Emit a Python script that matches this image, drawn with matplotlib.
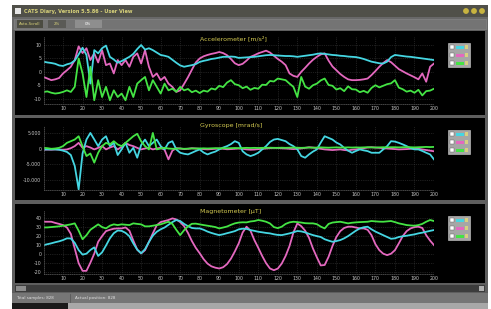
import numpy as np
import matplotlib
matplotlib.use("Agg")
import matplotlib.pyplot as plt
from matplotlib.patches import Rectangle, Circle

# sample positions (x axis of all three panels)
x = np.arange(0, 201, 2)

# accelerometer [m/s^2]
acc_cyan = [
    3.8, 3.5, 3.3, 3.0, 2.4, 2.2, 2.8, 3.2, 4.2, 6.5,
    9.0, 6.3, -4.4, 8.1, 6.9, 8.8, 9.8, 5.6, 4.6, 3.4,
    4.0, 4.8, 5.6, 6.7, 8.5, 10.0, 8.3, 8.8, 8.1, 7.2,
    6.3, 6.0, 5.6, 4.5, 3.4, 2.4, 1.9, 2.2, 2.5, 2.9,
    3.7, 4.1, 4.4, 4.8, 5.0, 5.3, 5.6, 5.6, 5.7, 5.6,
    5.2, 5.3, 5.4, 5.5, 5.6, 5.8, 6.0, 6.2, 6.3, 6.2,
    6.1, 6.0, 5.9, 5.9, 5.8, 5.6, 5.8, 6.0, 6.2, 6.4,
    6.7, 6.9, 6.7, 6.5, 6.3, 6.2, 6.0, 5.9, 5.7, 5.6,
    5.5, 5.2, 4.8, 4.3, 3.8, 3.5, 3.2, 3.1, 3.8, 5.5,
    6.3, 6.1, 5.9, 5.7, 5.6, 5.4, 5.2, 5.0, 4.8, 4.6,
    4.4]
acc_pink = [
    -1.9, -2.5, -3.1, -2.8, -2.3, -0.6, 0.6, 1.9, 4.4, 9.5,
    7.0, 8.8, 4.4, 6.9, 3.5, 8.1, 2.5, 3.1, -0.6, 4.4,
    2.5, 4.4, 1.9, 5.6, 6.9, 3.1, 8.1, 1.9, -1.9, -0.6,
    -3.1, -1.9, -4.4, -5.6, -7.5, -6.9, -4.5, -2.0, 0.8, 3.5,
    5.0, 5.8, 6.3, 6.7, 7.0, 7.4, 7.0, 6.2, 4.8, 3.2,
    2.5, 3.0, 4.2, 5.6, 6.2, 6.9, 7.4, 7.9, 7.2, 6.0,
    4.8, 3.8, 2.5, -0.6, -1.5, -1.9, 0.0, 1.5, 3.1, 4.5,
    5.6, 6.5, 6.9, 4.2, 2.0, 0.6, -0.8, -1.9, -2.8, -3.1,
    -3.1, -3.0, -2.8, -2.5, -1.2, 0.3, 1.9, 3.3, 4.4, 3.6,
    2.3, 1.0, 0.2, -0.6, -1.3, -2.0, -2.8, -0.6, -3.7, 1.9,
    3.1]
acc_green = [
    -7.5, -7.3, -7.8, -8.1, -7.9, -7.5, -6.9, -7.5, -5.6, 5.0,
    -0.6, -9.4, 1.9, -10.6, -3.1, -9.4, -5.6, -10.6, -6.9, -9.4,
    -8.1, -10.6, -5.6, -9.4, -4.4, -3.1, -1.9, -6.9, -3.1, -5.6,
    -8.1, -4.4, -6.9, -6.3, -7.4, -5.6, -6.9, -6.4, -7.6, -7.0,
    -7.9, -7.0, -7.4, -6.2, -6.6, -5.2, -5.7, -4.0, -3.1, -4.6,
    -5.0, -6.1, -5.5, -6.7, -6.0, -6.3, -4.8, -4.9, -3.4, -3.6,
    -2.5, -2.8, -3.1, -4.4, -5.6, -9.4, -1.9, -5.5, -6.3, -5.0,
    -4.4, -3.2, -2.5, -4.9, -5.2, -6.6, -6.1, -7.2, -5.4, -6.5,
    -6.6, -7.6, -7.1, -7.8, -6.0, -5.0, -5.8, -5.2, -4.6, -4.3,
    -3.1, -5.9, -6.5, -7.4, -7.0, -7.8, -6.7, -8.8, -7.2, -7.0,
    -6.3]

# gyroscope [mrad/s]
gyro_cyan = [
    -200, -200, -200, -200, -300, -600, -1000, -2000, -5500, -13000,
    -1500, 2960, 5080, 3000, 850, 2960, 4020, 850, 1900, -2000,
    -200, 1900, -1270, 320, -2860, 1200, 2960, 850, 1900, 2960,
    850, -200, 1900, 2430, -200, -1270, -1600, -1800, -1270, -700,
    -200, -1200, -1800, -1300, -900, -200, 400, 850, 1500, 2430,
    1900, -800, -1800, -2330, -1900, -1270, -200, 850, 2200, 2960,
    3170, 2800, 2430, 1500, 850, -200, -2330, -2860, -1800, -900,
    -200, 2000, 4020, 3500, 2960, 2000, 1380, 300, -600, -1270,
    -700, -200, -500, -740, -1270, -1270, -1270, -200, 850, 2430,
    2300, 1900, 1400, 850, 200, -200, -200, -700, -1270, -1800,
    -3390]
gyro_pink = [
    -300, -250, -300, -200, -250, -300, -200, 200, 850, 1900,
    320, 850, 400, -200, 300, 850, -200, 400, 850, -200,
    600, 1900, 1200, 850, 300, -200, 100, 320, -200, 100,
    320, -300, -3390, -600, 200, 100, -100, 0, 200, 100,
    0, -100, -200, -100, 0, 100, 0, -150, -100, 0,
    100, 0, -200, -300, -250, -100, 0, 100, 200, 300,
    250, 150, 100, 0, -100, 0, 100, 300, 500, 400,
    200, 0, -200, -300, -400, -300, -200, -400, -500, -300,
    -200, 0, 200, 400, 500, 400, 300, 200, 100, 0,
    -100, -200, -150, -100, 0, 100, 0, -200, -400, -600,
    -800]
gyro_green = [
    320, 200, 0, 100, 300, 850, 1900, 2430, 2960, 4020,
    800, -2330, -1500, -4440, -1270, 850, 1900, 1400, 2430, 1380,
    850, 1900, 2960, 4020, 4800, 2400, 850, -200, 5080, -200,
    100, 320, 100, 0, 50, 100, 0, 50, 100, 100,
    100, 150, 100, 150, 200, 150, 200, 150, 200, 250,
    200, 250, 300, 250, 300, 250, 300, 300, 350, 300,
    300, 350, 300, 350, 400, 350, 300, 350, 400, 350,
    400, 450, 400, 350, 400, 450, 400, 400, 450, 400,
    450, 400, 450, 500, 450, 400, 450, 500, 450, 500,
    500, 450, 500, 550, 500, 450, 500, 550, 600, 550,
    600]

# magnetometer [uT]
mag_cyan = [
    10.0, 11.0, 12.0, 13.2, 14.2, 15.6, 17.5, 17.4, 12.5, 4.5,
    -0.5, 0.5, 4.6, 7.5, -2.0, 2.0, 9.5, 17.5, 23.2, 26.2,
    25.8, 23.6, 19.8, 11.9, 5.0, 1.0, 5.5, 13.5, 20.5, 24.8,
    27.5, 29.5, 32.5, 35.5, 37.8, 36.7, 33.5, 31.0, 29.0, 28.5,
    28.5, 27.0, 25.0, 23.5, 22.2, 21.1, 22.0, 23.2, 24.3, 25.5,
    27.5, 28.2, 28.0, 26.7, 25.8, 24.8, 24.2, 23.5, 23.0, 22.0,
    21.3, 21.1, 22.0, 23.0, 24.2, 25.6, 25.2, 24.1, 22.5, 21.1,
    20.0, 19.0, 16.5, 15.0, 13.7, 14.5, 15.6, 17.5, 20.0, 23.0,
    26.0, 28.5, 29.8, 30.4, 27.5, 25.0, 23.0, 21.0, 19.0, 17.0,
    17.5, 19.0, 19.8, 20.4, 21.2, 21.9, 23.0, 23.8, 24.8, 25.8,
    26.7]
mag_pink = [
    35.9, 35.9, 35.9, 34.6, 33.5, 32.2, 29.5, 22.5, 6.3, -10.0,
    -18.5, -18.5, -9.5, 0.5, 13.7, 20.0, 25.5, 27.0, 28.2, 28.5,
    28.5, 29.6, 26.0, 15.0, 5.0, 0.8, 4.4, 13.5, 23.0, 32.0,
    35.5, 36.7, 37.8, 39.6, 38.5, 35.5, 31.0, 23.5, 14.5, 7.0,
    1.0, -5.5, -10.5, -13.5, -15.0, -15.9, -14.5, -11.0, -5.0, 3.0,
    12.0, 24.0, 30.4, 26.0, 15.6, 7.0, -2.0, -10.0, -15.9, -17.8,
    -16.0, -10.5, -2.0, 9.0, 24.0, 34.0, 31.0, 26.0, 18.0, 6.3,
    -3.5, -12.5, -12.0, -3.0, 9.0, 19.0, 25.5, 29.0, 30.4, 30.4,
    29.5, 28.5, 28.5, 27.0, 21.0, 11.0, 4.4, 0.5, -1.1, 0.5,
    4.4, 12.0, 20.0, 25.5, 28.5, 30.0, 30.4, 29.0, 21.0, 15.0,
    10.0]
mag_green = [
    29.6, 29.6, 30.0, 30.4, 30.8, 31.5, 32.2, 33.0, 34.1, 26.0,
    16.5, 21.0, 27.0, 30.0, 33.0, 30.0, 28.5, 31.5, 33.0, 32.2,
    33.0, 32.6, 32.2, 34.1, 33.5, 33.0, 30.8, 30.8, 31.5, 32.2,
    33.0, 34.5, 35.9, 33.5, 27.0, 21.1, 26.5, 30.8, 33.6, 33.8,
    33.0, 32.2, 31.5, 30.8, 30.0, 28.5, 29.5, 30.6, 32.5, 34.1,
    35.0, 35.3, 35.2, 36.2, 36.7, 37.8, 37.0, 35.9, 34.0, 30.0,
    28.8, 30.4, 33.5, 35.2, 35.9, 35.5, 35.0, 34.3, 34.1, 34.1,
    33.2, 30.5, 28.5, 33.5, 35.0, 35.5, 35.9, 35.0, 34.1, 34.8,
    35.2, 35.5, 35.7, 35.9, 36.7, 36.3, 36.0, 35.9, 36.3, 36.7,
    35.5, 34.1, 33.2, 32.2, 31.8, 31.5, 32.2, 33.5, 35.9, 37.8,
    36.7]

CYAN, PINK, GREEN = "#45d6e2", "#e468bf", "#44e444"
TXT = "#c4c4c4"
TITLE = "#d6cc52"

W, H = 491, 309


def box(x0, y0, x1, y1):
    # pixel box (top-left origin) -> figure fraction
    return [x0 / W, 1 - y1 / H, (x1 - x0) / W, (y1 - y0) / H]


fig = plt.figure(figsize=(W / 100, H / 100), dpi=100, facecolor="white")
bg = fig.add_axes([0, 0, 1, 1])
bg.set_xlim(0, W)
bg.set_ylim(H, 0)
bg.axis("off")


def rect(x0, y0, x1, y1, color, ec="none", lw=0):
    bg.add_patch(Rectangle((x0, y0), x1 - x0, y1 - y0, facecolor=color,
                           edgecolor=ec, lw=lw))


# window chrome
rect(12, 5, 488, 303, "#5e5e5e")
rect(12, 5, 488, 17, "#505049")
rect(15, 8, 21, 14, "#e6e6e6")
bg.text(24, 11, "CATS Diary, Version 5.5.86 - User View", color="#d8d27a",
        fontsize=3.6, fontweight="bold", va="center", ha="left")
for cx in (466, 474, 482):
    bg.add_patch(Circle((cx, 11), 2.2, color="#c8b440"))
rect(12, 17, 488, 30, "#686868")
rect(14, 18.5, 486, 29, "#747474", ec="#8a8a8a", lw=0.4)
rect(17, 20, 43, 27.5, "#4c4c42")
bg.text(30, 23.8, "Auto-Scroll", color="#d8d27a", fontsize=2.8, ha="center", va="center")
rect(48, 20, 66, 27.5, "#5a5a56")
bg.text(57, 23.8, "2%", color="#d8d27a", fontsize=2.8, ha="center", va="center")
rect(75, 20, 102, 27.5, "#8e8e8e")
bg.text(88, 23.8, "0%", color="white", fontsize=2.8, ha="center", va="center")

# black panels
for y0, y1 in ((31, 115), (118, 200), (204, 283)):
    rect(15, y0, 485, y1, "black")

# scrollbar and status bar
rect(15, 285, 485, 292, "#3c3c3c")
rect(16, 286, 26, 291, "#8c8c8c")
rect(479, 286, 484, 291, "#b0b0b0")
rect(12, 293, 488, 303, "#767676")
bg.text(16, 298, "Total samples: 828", color="#e0e0e0", fontsize=2.9, va="center")
bg.plot([70, 70], [294, 302], color="#5a5a5a", lw=0.6)
bg.text(75, 298, "Actual position: 828", color="#e0e0e0", fontsize=2.9, va="center")
rect(12, 303, 68, 309, "#1a1a1a")
rect(68, 303, 488, 309, "#a8a8a8")

panels = [
    ((37, 104), (-12, 13), [10, 5, 0, -5, -10], ["10", "5", "0", "-5", "-10"],
     "Accelerometer [m/s²]", 38.5, (acc_cyan, acc_pink, acc_green), 43),
    ((126, 190), (-13200, 7300), [5000, 0, -5000, -10000],
     ["5.000", "0", "-5.000", "-10.000"],
     "Gyroscope [mrad/s]", 125, (gyro_cyan, gyro_pink, gyro_green), 130),
    ((211, 274), (-22, 47.8), [40, 30, 20, 10, 0, -10, -20],
     ["40", "30", "20", "10", "0", "-10", "-20"],
     "Magnetometer [µT]", 212, (mag_cyan, mag_pink, mag_green), 216),
]

for (py0, py1), ylim, yt, ytl, title, ty, (sc, sp, sg), ly in panels:
    ax = fig.add_axes(box(43.5, py0, 434, py1))
    ax.set_facecolor("none")
    ax.set_xlim(0, 200)
    ax.set_ylim(*ylim)
    ax.plot(x, sp, color=PINK, lw=1.3)
    ax.plot(x, sc, color=CYAN, lw=1.3)
    ax.plot(x, sg, color=GREEN, lw=1.3)
    ax.set_xticks(range(10, 201, 10))
    ax.set_yticks(yt)
    ax.set_yticklabels(ytl)
    ax.tick_params(colors=TXT, labelsize=3.4, length=0, pad=1.5)
    ax.grid(True, color="#3c3c3c", lw=0.5, ls=":")
    for s in ("top", "right"):
        ax.spines[s].set_visible(False)
    for s in ("left", "bottom"):
        ax.spines[s].set_color("#606060")
        ax.spines[s].set_linestyle(":")
        ax.spines[s].set_linewidth(0.5)
    bg.text(200, ty, title, color=TITLE, fontsize=4.5, ha="left", va="center")

    # legend box
    rect(448, ly, 470, ly + 24, "#a6a6a6", ec="#d0d0d0", lw=0.4)
    for i, c in enumerate((CYAN, PINK, GREEN)):
        cy = ly + 4 + i * 8
        rect(450, cy - 2, 454, cy + 2, "white", ec="#555555", lw=0.3)
        rect(456, cy - 1.5, 464, cy + 1.5, c)
        rect(465.5, cy - 2, 468.5, cy + 2, "#d8d080")

fig.savefig("out.png", dpi=100, facecolor="white")
